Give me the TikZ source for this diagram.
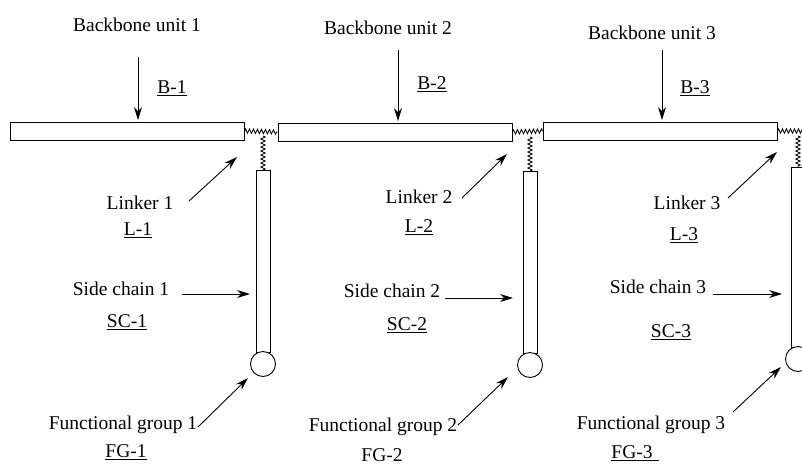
\documentclass[tikz,border=0pt]{standalone}
\usepackage{fontspec}
\setmainfont{Liberation Serif}
\usetikzlibrary{arrows.meta,decorations.pathmorphing,positioning}

\tikzset{
  unitbar/.style={draw,line width=0.9pt,fill=white,inner sep=0pt,minimum height=18pt,minimum width=234pt},
  chainbar/.style={draw,line width=0.9pt,fill=white,inner sep=0pt,minimum width=14pt,anchor=north},
  fgroup/.style={draw,circle,line width=0.9pt,fill=white,inner sep=0pt,minimum size=25pt},
  spring/.style={decorate,decoration={zigzag,segment length=4pt,amplitude=2.2pt},line width=0.8pt},
  lbl/.style={font=\fontsize{19.5}{22}\selectfont,inner sep=0pt},
  ptr/.style={-{Stealth[length=13pt,width=8pt]},line width=0.9pt}
}

\begin{document}
\begin{tikzpicture}[x=1pt,y=-1pt]
\useasboundingbox (0,0) rectangle (802,464);
\clip (0,0) rectangle (802,464);
% backbone units and side chains
\node[unitbar] (B1) at (127,131) {};
\node[unitbar] (B2) at (395,132) {};
\node[unitbar] (B3) at (660,131) {};
\node[chainbar,minimum height=182pt] (S1) at (263,170) {};
\node[chainbar,minimum height=182pt] (S2) at (530,171) {};
\node[chainbar,minimum height=180pt] (S3) at (798,167) {};
\node[fgroup] (F1) at (263,364) {};
\node[fgroup] (F2) at (530,365) {};
\node[fgroup] (F3) at (798,359) {};
% linkers
\coordinate (J1) at (263,136);
\coordinate (J2) at (530,137);
\coordinate (J3) at (798,136);
\coordinate (Jend) at (830,131);
\draw[spring] (B1.east) -- (B2.west);
\draw[spring] (B2.east) -- (B3.west);
\draw[spring] (B3.east) -- (Jend);
\draw[spring] (J1) -- (S1.north);
\draw[spring] (J2) -- (S2.north);
\draw[spring] (J3) -- (S3.north);
% backbone labels
\node[lbl] (bu1) at (137,25) {Backbone unit 1};
\node[lbl] (b1) at (172,88) {\underline{B-1}};
\node[lbl] (bu2) at (388,28) {Backbone unit 2};
\node[lbl] (b2) at (432,84) {\underline{B-2}};
\node[lbl] (bu3) at (652,33) {Backbone unit 3};
\node[lbl] (b3) at (695,88) {\underline{B-3}};
\coordinate (bu1s) at (138,57);
\coordinate (bu2s) at (398,50);
\coordinate (bu3s) at (662,50);
\draw[ptr,shorten >=1.5pt] (bu1s) -- (bu1s |- B1.north);
\draw[ptr,shorten >=1.5pt] (bu2s) -- (bu2s |- B2.north);
\draw[ptr,shorten >=1.5pt] (bu3s) -- (bu3s |- B3.north);
% linker labels
\node[lbl] (lk1) at (140,203) {Linker 1};
\node[lbl] (l1) at (138,230) {\underline{L-1}};
\node[lbl] (lk2) at (419,197) {Linker 2};
\node[lbl] (l2) at (419,227) {\underline{L-2}};
\node[lbl] (lk3) at (687,203) {Linker 3};
\node[lbl] (l3) at (684,235) {\underline{L-3}};
\coordinate (lk1s) at (189,201);
\coordinate (lk1t) at (237,157);
\coordinate (lk2s) at (462,198);
\coordinate (lk2t) at (507,154);
\coordinate (lk3s) at (728,198);
\coordinate (lk3t) at (777,152);
\draw[ptr] (lk1s) -- (lk1t);
\draw[ptr] (lk2s) -- (lk2t);
\draw[ptr] (lk3s) -- (lk3t);
% side chain labels
\node[lbl] (sc1) at (121,289) {Side chain 1};
\node[lbl] (s1) at (127,322) {\underline{SC-1}};
\node[lbl] (sc2) at (392,291) {Side chain 2};
\node[lbl] (s2) at (407,325) {\underline{SC-2}};
\node[lbl] (sc3) at (658,287) {Side chain 3};
\node[lbl] (s3) at (671,332) {\underline{SC-3}};
\coordinate (sc1s) at (182,294);
\coordinate (sc2s) at (445,298);
\coordinate (sc3s) at (713,294);
\draw[ptr] (sc1s) -- (250,294);
\draw[ptr] (sc2s) -- (513,298);
\draw[ptr] (sc3s) -- (782,294);
% functional group labels
\node[lbl] (fg1) at (123,425) {Functional group 1};
\node[lbl] (f1) at (126,452) {\underline{FG-1}};
\node[lbl] (fg2) at (383,427) {Functional group 2};
\node[lbl] (f2) at (382,455) {FG-2};
\node[lbl] (fg3) at (651,425) {Functional group 3};
\node[lbl] (f3) at (635,453) {\underline{FG-3\hspace{6pt}}};
\coordinate (fg1s) at (198,427);
\coordinate (fg2s) at (458,425);
\coordinate (fg3s) at (733,412);
\draw[ptr] (fg1s) -- (248,378);
\draw[ptr] (fg2s) -- (508,377);
\draw[ptr] (fg3s) -- (781,367);
\end{tikzpicture}
\end{document}
